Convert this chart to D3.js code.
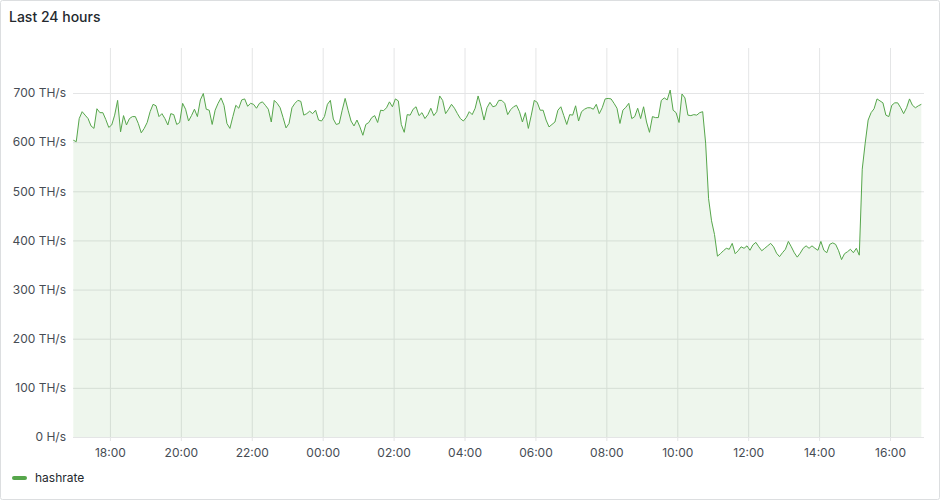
<!DOCTYPE html>
<html>
<head>
<meta charset="utf-8">
<script src="https://cdn.jsdelivr.net/npm/d3@7"></script>
<style>
  html, body { margin: 0; padding: 0; background: #ffffff; }
  svg { display: block; font-family: Inter, "Noto Sans", sans-serif; }
</style>
</head>
<body>
<svg id="chart" width="940" height="500"></svg>
<script>
// ---- data ----
const title = "Last 24 hours";
const seriesName = "hashrate";
const startTime = "2024-01-01T16:58:00Z";   // first sample
const stepMinutes = 5;                        // sample interval
const hashrateTHs = [
  604,601,648,662,655,648,633,628,668,660,660,646,630,635,655,685,621,654,635,648,
  652,652,638,619,628,640,662,677,674,652,658,648,635,658,656,636,640,679,667,643,
  654,667,652,686,699,667,665,636,665,679,690,675,638,628,652,675,669,686,688,673,
  679,677,669,679,682,675,667,641,685,679,670,650,629,638,670,679,685,683,655,658,
  663,658,665,645,643,652,677,685,647,636,638,665,689,665,643,633,645,631,614,636,
  640,650,654,640,665,664,670,682,672,688,684,636,620,656,655,667,672,654,660,648,
  656,669,654,662,694,685,658,667,677,669,658,648,643,650,662,656,669,694,672,645,
  670,681,672,674,685,685,679,656,666,672,675,662,641,660,628,655,685,681,665,665,
  645,631,636,641,665,672,654,636,656,655,674,643,662,667,670,670,667,677,658,670,
  688,689,688,679,669,638,665,671,679,648,652,669,648,672,641,620,652,650,650,685,
  690,686,706,665,660,640,698,690,655,654,656,655,660,662,598,485,440,412,368,373,
  379,384,382,394,373,379,387,384,389,380,391,396,387,379,384,389,394,387,374,367,
  375,382,398,387,375,366,374,384,389,384,389,384,380,398,380,375,392,395,392,379,
  361,373,377,382,375,384,370,545,598,645,660,668,688,684,680,655,652,675,680,680,
  670,658,670,688,675,670,674,677
];
const yTickValues = [0, 100, 200, 300, 400, 500, 600, 700];
const yTickLabels = ["0 H/s", "100 TH/s", "200 TH/s", "300 TH/s", "400 TH/s", "500 TH/s", "600 TH/s", "700 TH/s"];
const xRangeStart = "2024-01-01T16:57:30Z";
const xRangeHours = 24;
const yMax = 791.6;

// ---- build ----
const t0 = new Date(startTime).getTime();
const data = hashrateTHs.map((v, i) => ({ t: new Date(t0 + i * stepMinutes * 60000), v }));
const xStart = new Date(xRangeStart);
const xEnd = new Date(xStart.getTime() + xRangeHours * 3600000);

const W = 940, H = 500;
const plot = { left: 73, right: 924, top: 48, bottom: 437 };
const svg = d3.select("#chart");

const gridColor = "#e4e5e6";
const textColor = "#24292e";
const tickText = "#464c54";
const green = "#56a64b";

// panel
svg.append("rect").attr("x", 0.5).attr("y", 0.5).attr("width", W - 1).attr("height", H - 1)
  .attr("rx", 2).attr("fill", "#ffffff").attr("stroke", "#dcdee0");

svg.append("text").attr("x", 9).attr("y", 22).attr("font-size", 14).attr("font-weight", 500)
  .attr("fill", textColor).text(title);

const x = d3.scaleUtc().domain([xStart, xEnd]).range([plot.left, plot.right]);
const y = d3.scaleLinear().domain([0, yMax]).range([plot.bottom, plot.top]);

// horizontal grid
const yAxis = d3.axisLeft(y).tickValues(yTickValues)
  .tickFormat((d, i) => yTickLabels[i])
  .tickSize(-(plot.right - plot.left)).tickPadding(7);
const gy = svg.append("g").attr("transform", `translate(${plot.left},0)`).call(yAxis);
gy.select(".domain").remove();
gy.selectAll(".tick line").attr("stroke", gridColor).attr("stroke-width", 1);
gy.selectAll(".tick text").attr("fill", tickText).attr("font-size", 12).attr("font-family", "Inter, sans-serif");

// vertical grid + x labels
const xAxis = d3.axisBottom(x).ticks(d3.utcHour.every(2)).tickFormat(d3.utcFormat("%H:%M"))
  .tickSize(-(plot.bottom - plot.top)).tickPadding(0);
const gx = svg.append("g").attr("transform", `translate(0,${plot.bottom})`).call(xAxis);
gx.select(".domain").remove();
gx.selectAll(".tick line").attr("stroke", gridColor).attr("y2", -(plot.bottom - plot.top)).attr("y1", 4);
gx.selectAll(".tick text").attr("fill", tickText).attr("font-size", 12).attr("font-family", "Inter, sans-serif")
  .attr("dy", 0).attr("y", 20);

// area + line
const area = d3.area().x(d => x(d.t)).y0(y(0)).y1(d => y(d.v));
const line = d3.line().x(d => x(d.t)).y(d => y(d.v));
svg.append("path").datum(data).attr("d", area).attr("fill", green).attr("fill-opacity", 0.1);
svg.append("path").datum(data).attr("d", line).attr("fill", "none").attr("stroke", green)
  .attr("stroke-width", 1).attr("stroke-linejoin", "round");

// legend
svg.append("line").attr("x1", 14).attr("x2", 25).attr("y1", 478).attr("y2", 478)
  .attr("stroke", green).attr("stroke-width", 4).attr("stroke-linecap", "round");
svg.append("text").attr("x", 35).attr("y", 481.5).attr("font-size", 12).attr("fill", textColor)
  .text(seriesName);
</script>
</body>
</html>
